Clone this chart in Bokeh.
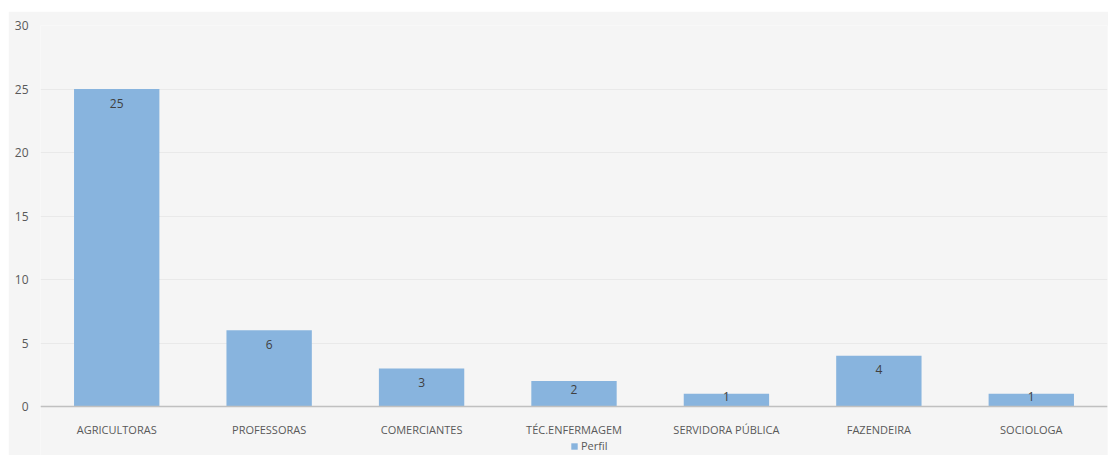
from bokeh.plotting import figure
from bokeh.models import ColumnDataSource, LabelSet, Legend, LegendItem, FixedTicker
from bokeh.core.properties import value
from bokeh.embed import file_html
from bokeh.resources import INLINE

categories = ["AGRICULTORAS", "PROFESSORAS", "COMERCIANTES", "TÉC.ENFERMAGEM",
              "SERVIDORA PÚBLICA", "FAZENDEIRA", "SOCIOLOGA"]
values = [25, 6, 3, 2, 1, 4, 1]
series_name = "Perfil"
y_ticks = [0, 5, 10, 15, 20, 25, 30]

BG = "#f5f5f5"
FONT = "Open Sans"
PX_PER_UNIT = 381 / 30.0
BOTTOM_PX = 49  # space below the zero line for category labels and legend

offsets = [-min(14, max(2, v * PX_PER_UNIT / 2 - 4)) if v * PX_PER_UNIT < 30 else -14 for v in values]

src = ColumnDataSource(dict(cat=categories, val=values, lab=[str(v) for v in values], off=offsets))

p = figure(x_range=categories, y_range=(-BOTTOM_PX / PX_PER_UNIT, 30), width=1100, height=444,
           output_backend="svg", toolbar_location=None,
           background_fill_color=BG, border_fill_color=BG,
           min_border_left=32, min_border_right=1, min_border_top=14, min_border_bottom=0)
p.margin = (11, 0, 4, 8)
p.outline_line_color = None

r = p.vbar(x="cat", top="val", bottom=0, width=0.56, source=src, fill_color="#88b4de", line_color=None)

labels = LabelSet(x="cat", y="val", text="lab", source=src, y_offset="off",
                  text_align="center", text_baseline="middle", text_font_size=value("12px"),
                  text_color="#404040", text_font=value(FONT))
p.add_layout(labels)

p.yaxis.ticker = FixedTicker(ticks=y_ticks)
p.yaxis.axis_line_color = None
p.yaxis.major_tick_line_color = None
p.yaxis.minor_tick_line_color = None
p.yaxis.major_label_text_font_size = "12px"
p.yaxis.major_label_text_color = "#595959"
p.yaxis.major_label_text_font = FONT
p.yaxis.major_label_standoff = 6

p.xaxis.fixed_location = 0
p.xaxis.axis_line_color = "#c0c0c0"
p.xaxis.axis_line_width = 1.5
p.xaxis.major_tick_line_color = None
p.xaxis.minor_tick_line_color = None
p.xaxis.major_label_text_font_size = "11px"
p.xaxis.major_label_text_color = "#595959"
p.xaxis.major_label_text_font = FONT
p.xaxis.major_label_standoff = 9

p.xgrid.grid_line_color = None
p.ygrid.grid_line_color = "#e9e9e9"
p.ygrid.grid_line_width = 1

legend = Legend(items=[LegendItem(label=series_name, renderers=[r])],
                orientation="horizontal", location=(530, 2),
                background_fill_alpha=0, border_line_color=None,
                label_text_font_size="11px", label_text_color="#595959",
                label_text_font=FONT, glyph_width=8, glyph_height=8,
                label_standoff=3, padding=0, margin=0, label_height=14)
p.add_layout(legend)

open("out.html", "w").write(file_html(p, INLINE))
